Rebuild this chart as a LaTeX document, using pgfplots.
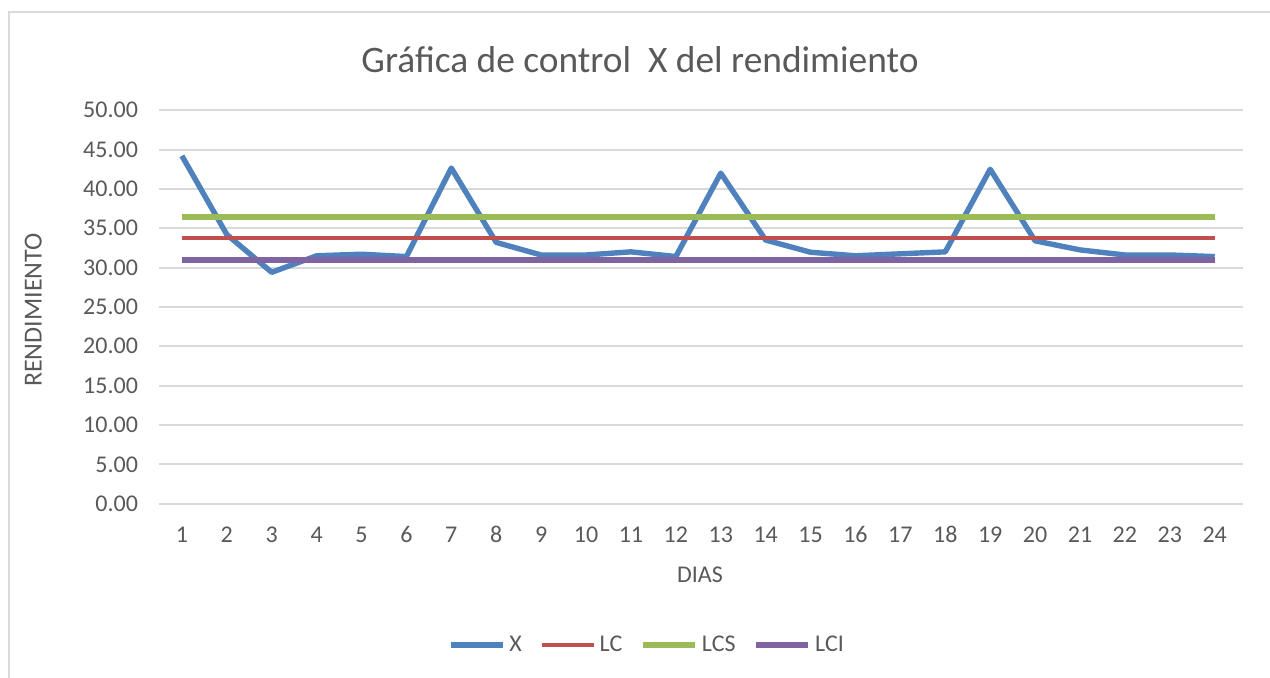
\documentclass[border=0pt]{standalone}
\usepackage{fontspec}
\setmainfont{Carlito}
\usepackage{pgfplots}
\pgfplotsset{compat=1.18}
\definecolor{txt}{HTML}{595959}
\definecolor{grd}{HTML}{D9D9D9}
\definecolor{cX}{HTML}{4F81BD}
\definecolor{cLC}{HTML}{C0504D}
\definecolor{cLCS}{HTML}{9BBB59}
\definecolor{cLCI}{HTML}{8064A2}
\begin{document}
\begin{tikzpicture}
\path[use as bounding box] (0pt,0pt) rectangle (635pt,339pt);
\draw[grd, line width=1pt] (4.25pt,-5pt) -- (4.25pt,333pt) -- (645pt,333pt);
\node[txt, font=\fontsize{18.7}{22}\selectfont] at (320pt,309pt) {Gráfica de control\ \ X del rendimiento};
\begin{axis}[
  at={(79.5pt,87.15pt)}, anchor=south west,
  scale only axis, width=542pt, height=196.75pt,
  xmin=0.49, xmax=24.63, ymin=0, ymax=50,
  xtick={1,...,24}, ytick={0,5,...,50},
  axis line style={draw=none},
  major tick length=0pt,
  ymajorgrids, grid style={grd, line width=1pt},
  tick label style={txt, font=\fontsize{12}{14}\selectfont},
  /pgf/number format/assume math mode=true,
  yticklabel style={/pgf/number format/fixed, /pgf/number format/fixed zerofill, /pgf/number format/precision=2, anchor=east, xshift=-7pt},
  xticklabel style={anchor=base, yshift=-19.4pt},
  xlabel={DIAS}, ylabel={RENDIMIENTO},
  label style={txt, font=\fontsize{12}{14}\selectfont},
  xlabel style={at={(axis description cs:0.499,-0.181)}, anchor=center},
  ylabel style={at={(axis description cs:-0.116,0.492)}, anchor=center, font=\fontsize{13}{15}\selectfont},
  legend columns=4,
  legend style={draw=none, fill=none, at={(0.451,-0.359)}, anchor=center,
    font=\fontsize{12}{14}\selectfont, text=txt,
    /tikz/every even column/.append style={column sep=7pt}},
  legend image code/.code={\draw[#1, line cap=butt] (0pt,0pt) -- (26pt,0pt);},
  line join=round,
]
\addplot[cX, line width=2.7pt] coordinates {
(1,44.2) (2,34.2) (3,29.4) (4,31.5) (5,31.7) (6,31.4) (7,42.65) (8,33.2)
(9,31.6) (10,31.6) (11,32.0) (12,31.4) (13,42.0) (14,33.5) (15,31.95) (16,31.5)
(17,31.75) (18,32.0) (19,42.5) (20,33.4) (21,32.25) (22,31.6) (23,31.6) (24,31.4)};
\addlegendentry{X}
\addplot[cLC, line width=2pt] coordinates {(1,33.7) (24,33.7)};
\addlegendentry{LC}
\addplot[cLCS, line width=2.8pt] coordinates {(1,36.4) (24,36.4)};
\addlegendentry{LCS}
\addplot[cLCI, line width=2.8pt] coordinates {(1,30.95) (24,30.95)};
\addlegendentry{LCI}
\end{axis}
\end{tikzpicture}
\end{document}
